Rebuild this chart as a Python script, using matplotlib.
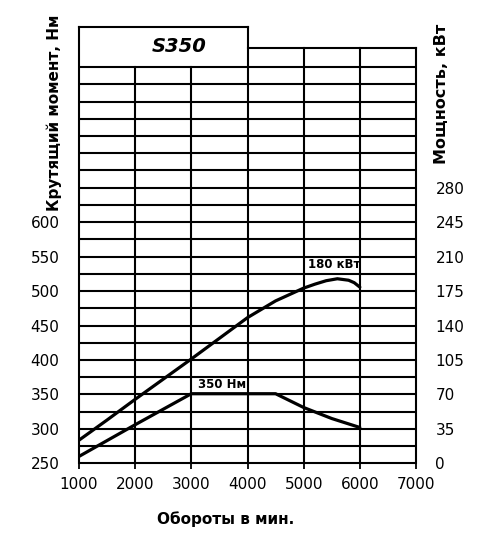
import matplotlib
matplotlib.use("Agg")
import matplotlib.pyplot as plt

# ---- data ----
rpm_torque = [1000, 2000, 3000, 4000, 4500, 5000, 5500, 6000]
torque_nm = [260, 306, 351, 351, 351, 331, 315, 302]

rpm_power = [1000, 1500, 2000, 2500, 3000, 3500, 4000, 4500, 5000, 5200, 5400, 5600, 5800, 5900, 6000]
power_kw = [23.5, 44, 65, 85.5, 106, 127, 148, 165, 178, 182, 185.5, 187.5, 186, 183.5, 179]

x_ticks = [1000, 2000, 3000, 4000, 5000, 6000, 7000]
torque_ticks = [250, 300, 350, 400, 450, 500, 550, 600]
power_ticks = [0, 35, 70, 105, 140, 175, 210, 245, 280]

title_text = "S350"
torque_label = "Крутящий момент, Нм"
power_label = "Мощность, кВт"
x_label = "Обороты в мин."
torque_note = "350 Нм"
power_note = "180 кВт"

# ---- layout ----
plt.rcParams['font.family'] = ['DejaVu Sans']
W, H = 491, 550
fig = plt.figure(figsize=(W / 100, H / 100), dpi=100)
left_px, right_px, bottom_px, top_px = 79, 416, 463.3, 26.7
ax = fig.add_axes([left_px / W, (H - bottom_px) / H,
                   (right_px - left_px) / W, (bottom_px - top_px) / H])

y_top = 883.7      # top of title box (torque units)
y_grid_top = 825   # last horizontal grid line
y_right_top = 853  # top of right-hand block
ax.set_xlim(1000, 7000)
ax.set_ylim(250, y_top)
for s in ax.spines.values():
    s.set_visible(False)

lw_grid = 1.5
# horizontal grid lines
for y in range(250, y_grid_top + 1, 25):
    ax.plot([1000, 7000], [y, y], color='black', lw=lw_grid, clip_on=False,
            solid_capstyle='butt', zorder=1)
# vertical lines
for xv, ytop in [(1000, y_top), (2000, y_grid_top), (3000, y_grid_top),
                 (4000, y_top), (5000, y_right_top), (6000, y_right_top),
                 (7000, y_right_top)]:
    ax.plot([xv, xv], [250, ytop], color='black', lw=lw_grid, clip_on=False,
            solid_capstyle='projecting', zorder=1)
# top borders
ax.plot([1000, 4000], [y_top, y_top], color='black', lw=lw_grid, clip_on=False,
        solid_capstyle='projecting')
ax.plot([4000, 7000], [y_right_top, y_right_top], color='black', lw=lw_grid,
        clip_on=False, solid_capstyle='projecting')

# curves
ax.plot(rpm_torque, torque_nm, color='black', lw=2.3, zorder=3,
        solid_joinstyle='round', solid_capstyle='round')
power_in_nm = [250 + p / 0.7 for p in power_kw]
ax.plot(rpm_power, power_in_nm, color='black', lw=2.3, zorder=3,
        solid_joinstyle='round', solid_capstyle='round')

# annotations
ax.text(3540, 365, torque_note, ha='center', va='center', fontsize=8.5,
        fontweight='bold', zorder=4)
ax.text(5540, 538, power_note, ha='center', va='center', fontsize=8.5,
        fontweight='bold', zorder=4)
ax.text(2780, (y_top + y_grid_top) / 2, title_text, ha='center', va='center',
        fontsize=14, fontweight='bold', style='italic')

# ticks
ax.set_xticks(x_ticks)
ax.set_xticklabels([str(v) for v in x_ticks], fontsize=11)
ax.tick_params(axis='x', direction='out', length=4, width=1.3, pad=6)
ax.set_yticks(torque_ticks)
ax.set_yticklabels([str(v) for v in torque_ticks], fontsize=11)
ax.tick_params(axis='y', length=0, pad=14)

ax2 = ax.twinx()
for s in ax2.spines.values():
    s.set_visible(False)
ax2.set_ylim(0, (y_top - 250) * 0.7)
ax2.set_yticks(power_ticks)
ax2.set_yticklabels([str(v) for v in power_ticks], fontsize=11)
ax2.tick_params(axis='y', length=0, pad=14)

# axis titles
fig.text(226 / W, 1 - 519 / H, x_label, ha='center', va='center',
         fontsize=11, fontweight='bold')
fig.text(54 / W, 1 - 113 / H, torque_label, ha='center', va='center',
         rotation=90, fontsize=11, fontweight='bold')
fig.text(441 / W, 1 - 94 / H, power_label, ha='center', va='center',
         rotation=90, fontsize=11.5, fontweight='bold')

fig.savefig("out.png", dpi=100, facecolor='white')
